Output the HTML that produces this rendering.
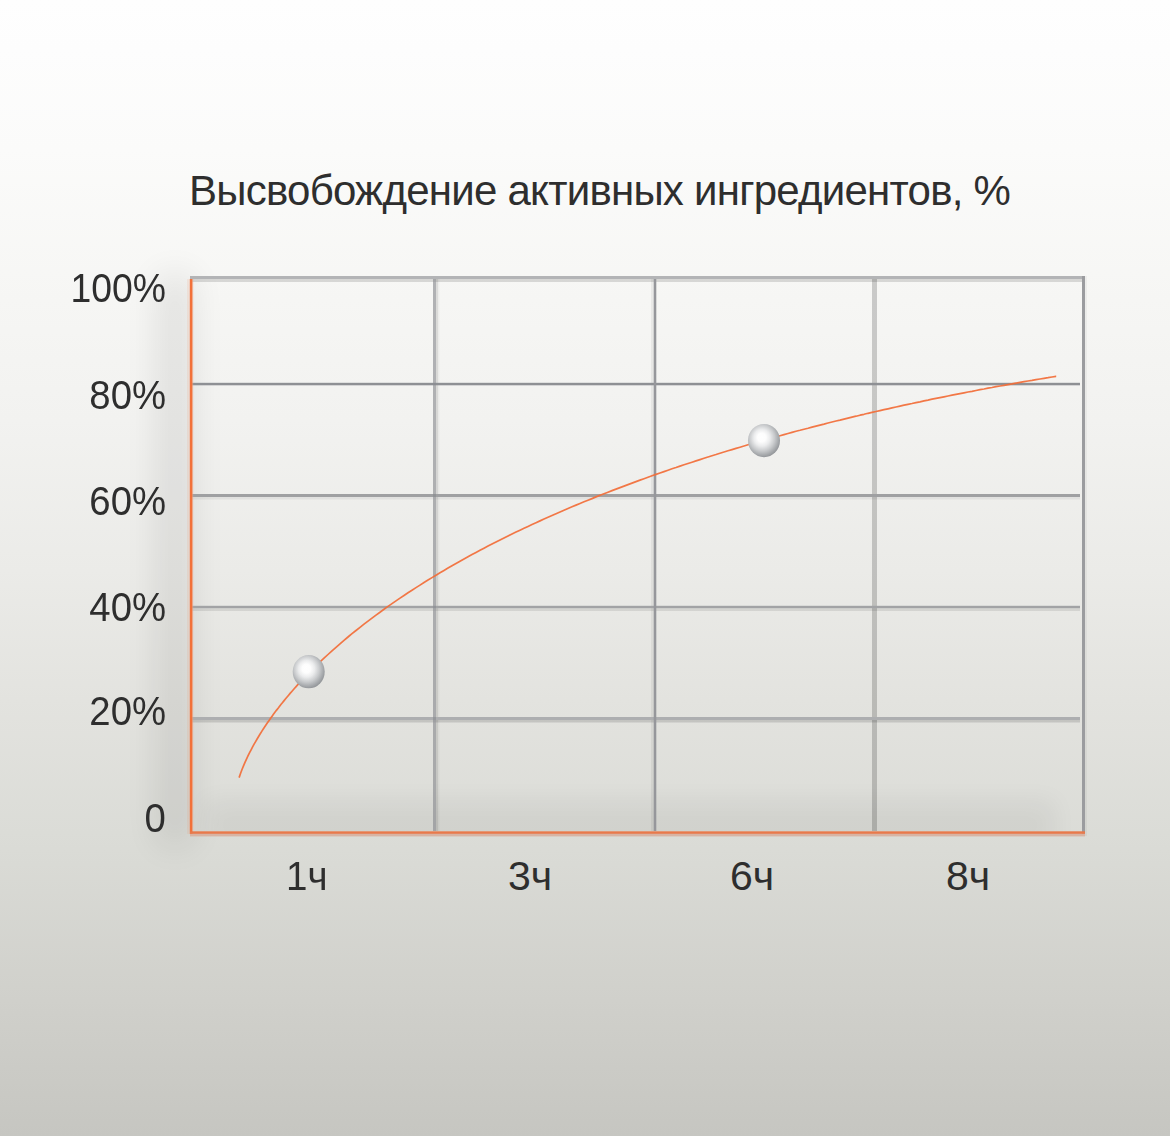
<!DOCTYPE html>
<html><head><meta charset="utf-8">
<style>
html,body{margin:0;padding:0;}
body{width:1170px;height:1136px;overflow:hidden;position:relative;
background:linear-gradient(to bottom,#fefefe 0px,#fdfdfd 50px,#fbfbfa 150px,#f6f6f4 300px,#f2f2f0 420px,#ebebe8 570px,#e3e3df 700px,#dadbd6 850px,#d0d0cb 1000px,#c6c6c1 1136px);
font-family:"Liberation Sans",sans-serif;color:#2e2e2e;}
.t{position:absolute;white-space:nowrap;line-height:1;}
#title{left:189px;top:170px;font-size:42px;letter-spacing:-0.75px;}
.yl{position:absolute;right:1004px;font-size:41px;line-height:1;text-align:right;white-space:nowrap;transform:scaleX(0.935);transform-origin:100% 50%;}
.xl{position:absolute;font-size:41px;line-height:1;white-space:nowrap;}
svg{position:absolute;left:0;top:0;}
</style></head><body>
<svg width="1170" height="1136" viewBox="0 0 1170 1136">
<defs>
<filter id="blur1" x="-100%" y="-20%" width="300%" height="140%"><feGaussianBlur stdDeviation="17"/></filter>
<filter id="blur2" x="-20%" y="-100%" width="140%" height="300%"><feGaussianBlur stdDeviation="12"/></filter>
<clipPath id="inner"><rect x="192" y="282" width="890" height="549"/></clipPath>
<radialGradient id="sph" cx="0.45" cy="0.43" r="0.6" fx="0.42" fy="0.40">
<stop offset="0" stop-color="#ffffff"/>
<stop offset="0.22" stop-color="#fdfdfd"/>
<stop offset="0.42" stop-color="#ebeced"/>
<stop offset="0.65" stop-color="#c9cbcd"/>
<stop offset="0.85" stop-color="#a6a9ac"/>
<stop offset="1" stop-color="#8d9094"/>
</radialGradient>
<filter id="sb" x="-20%" y="-20%" width="140%" height="140%"><feGaussianBlur stdDeviation="0.55"/></filter>
</defs>
<!-- left shadow -->
<rect x="158" y="275" width="34" height="570" fill="#000" opacity="0.085" filter="url(#blur1)"/>
<!-- bottom shade -->
<g clip-path="url(#inner)"><rect x="205" y="800" width="850" height="50" fill="#000" opacity="0.045" filter="url(#blur2)"/></g>
<!-- grid light bands -->
<rect x="190" y="279" width="892" height="3" fill="#000" opacity="0.13"/>
<rect x="192" y="497" width="888" height="2.5" fill="#000" opacity="0.055"/>
<rect x="192" y="608.2" width="888" height="2.8" fill="#000" opacity="0.09"/>
<rect x="192" y="720" width="888" height="2.5" fill="#000" opacity="0.13"/>
<rect x="436" y="279" width="2" height="552" fill="#000" opacity="0.11"/>
<rect x="438" y="279" width="1.5" height="552" fill="#000" opacity="0.035"/>
<rect x="1085" y="276" width="2" height="560" fill="#000" opacity="0.04"/>
<rect x="651" y="279" width="2.7" height="552" fill="#000" opacity="0.05"/>
<!-- grid dark lines -->
<rect x="872" y="279" width="5" height="552" fill="#000" opacity="0.18"/>
<rect x="190" y="276" width="895" height="3" fill="#b3b4b6"/>
<rect x="190" y="382.8" width="890" height="2.5" fill="#8e9094"/>
<rect x="190" y="494" width="890" height="3" fill="#9fa0a2"/>
<rect x="190" y="605.8" width="890" height="2.4" fill="#a2a3a5"/>
<rect x="190" y="717" width="890" height="3" fill="#adaeb0"/>
<rect x="433" y="279" width="3" height="552" fill="#8a8c90" opacity="0.65"/>
<rect x="653.7" y="279" width="2.6" height="552" fill="#96979b"/>
<rect x="1082" y="276" width="3" height="560" fill="#9b9c9f"/>
<!-- axes -->
<rect x="187" y="279" width="2.8" height="555" fill="#f2713a" opacity="0.1"/>
<rect x="189.8" y="279" width="2.7" height="555" fill="#f2713a"/>
<rect x="192.4" y="279" width="0.8" height="552" fill="#eeab8e" opacity="0.6"/>
<rect x="190" y="831.3" width="895" height="2.6" fill="#e8794b"/>
<rect x="190" y="833.9" width="895" height="2.5" fill="#d8b3a3"/>
<path d="M239.1,777.6 L240.6,773.3 L242.1,769.3 L243.6,765.6 L245.1,762.1 L246.6,758.8 L248.1,755.7 L249.6,752.7 L251.1,749.8 L252.6,746.9 L254.1,744.2 L255.6,741.6 L257.1,739.0 L258.6,736.5 L260.1,734.0 L261.6,731.6 L263.1,729.3 L264.6,727.0 L266.1,724.8 L267.6,722.6 L269.1,720.4 L270.6,718.3 L272.1,716.2 L273.6,714.1 L275.1,712.1 L276.6,710.1 L278.1,708.2 L279.6,706.2 L281.1,704.3 L282.6,702.5 L284.1,700.6 L285.6,698.8 L287.1,697.0 L288.6,695.2 L290.1,693.4 L291.6,691.7 L293.1,690.0 L294.6,688.3 L296.1,686.6 L297.6,684.9 L299.1,683.3 L300.0,682.3 L304.0,678.0 L308.0,673.8 L312.0,669.8 L316.0,665.8 L320.0,661.9 L324.0,658.2 L328.0,654.5 L332.0,650.8 L336.0,647.3 L340.0,643.8 L344.0,640.4 L348.0,637.0 L352.0,633.7 L356.0,630.5 L360.0,627.3 L364.0,624.2 L368.0,621.1 L372.0,618.1 L376.0,615.1 L380.0,612.2 L384.0,609.3 L388.0,606.4 L392.0,603.6 L396.0,600.9 L400.0,598.1 L404.0,595.5 L408.0,592.8 L412.0,590.2 L416.0,587.6 L420.0,585.1 L424.0,582.5 L428.0,580.1 L432.0,577.6 L436.0,575.2 L440.0,572.8 L444.0,570.4 L448.0,568.1 L452.0,565.8 L456.0,563.5 L460.0,561.2 L464.0,559.0 L468.0,556.8 L472.0,554.6 L476.0,552.5 L480.0,550.3 L484.0,548.2 L488.0,546.1 L492.0,544.1 L496.0,542.0 L500.0,540.0 L504.0,538.0 L508.0,536.0 L512.0,534.1 L516.0,532.1 L520.0,530.2 L524.0,528.3 L528.0,526.4 L532.0,524.5 L536.0,522.7 L540.0,520.9 L544.0,519.0 L548.0,517.3 L552.0,515.5 L556.0,513.7 L560.0,512.0 L564.0,510.2 L568.0,508.5 L572.0,506.8 L576.0,505.1 L580.0,503.5 L584.0,501.8 L588.0,500.2 L592.0,498.6 L596.0,496.9 L600.0,495.3 L604.0,493.8 L608.0,492.2 L612.0,490.6 L616.0,489.1 L620.0,487.6 L624.0,486.1 L628.0,484.6 L632.0,483.1 L636.0,481.6 L640.0,480.1 L644.0,478.7 L648.0,477.2 L652.0,475.8 L656.0,474.4 L660.0,473.0 L664.0,471.6 L668.0,470.2 L672.0,468.8 L676.0,467.5 L680.0,466.1 L684.0,464.8 L688.0,463.5 L692.0,462.2 L696.0,460.9 L700.0,459.6 L704.0,458.3 L708.0,457.0 L712.0,455.7 L716.0,454.5 L720.0,453.2 L724.0,452.0 L728.0,450.8 L732.0,449.6 L736.0,448.4 L740.0,447.2 L744.0,446.0 L748.0,444.8 L752.0,443.6 L756.0,442.5 L760.0,441.3 L764.0,440.2 L768.0,439.0 L772.0,437.9 L776.0,436.8 L780.0,435.7 L784.0,434.6 L788.0,433.5 L792.0,432.4 L796.0,431.3 L800.0,430.3 L804.0,429.2 L808.0,428.2 L812.0,427.1 L816.0,426.1 L820.0,425.1 L824.0,424.1 L828.0,423.0 L832.0,422.0 L836.0,421.0 L840.0,420.1 L844.0,419.1 L848.0,418.1 L852.0,417.1 L856.0,416.2 L860.0,415.2 L864.0,414.3 L868.0,413.3 L872.0,412.4 L876.0,411.5 L880.0,410.6 L884.0,409.7 L888.0,408.8 L892.0,407.9 L896.0,407.0 L900.0,406.1 L904.0,405.2 L908.0,404.3 L912.0,403.5 L916.0,402.6 L920.0,401.8 L924.0,400.9 L928.0,400.1 L932.0,399.2 L936.0,398.4 L940.0,397.6 L944.0,396.8 L948.0,396.0 L952.0,395.2 L956.0,394.4 L960.0,393.6 L964.0,392.8 L968.0,392.0 L972.0,391.3 L976.0,390.5 L980.0,389.7 L984.0,389.0 L988.0,388.2 L992.0,387.5 L996.0,386.7 L1000.0,386.0 L1004.0,385.3 L1008.0,384.6 L1012.0,383.9 L1016.0,383.1 L1020.0,382.4 L1024.0,381.7 L1028.0,381.0 L1032.0,380.4 L1036.0,379.7 L1040.0,379.0 L1044.0,378.3 L1048.0,377.7 L1052.0,377.0 L1056.0,376.3 L1056.2,376.3" fill="none" stroke="#f26d37" stroke-width="1.7" stroke-opacity="0.92" stroke-linejoin="round" stroke-linecap="butt"/>
<ellipse cx="308.7" cy="671.7" rx="16" ry="16.6" fill="url(#sph)" filter="url(#sb)"/>
<ellipse cx="764" cy="440.6" rx="16" ry="16.6" fill="url(#sph)" filter="url(#sb)"/>
</svg>
<div class="t" id="title">Высвобождение активных ингредиентов, %</div>
<div class="yl" style="top:268px;transform:scaleX(0.91)">100%</div>
<div class="yl" style="top:375px">80%</div>
<div class="yl" style="top:481px">60%</div>
<div class="yl" style="top:587px">40%</div>
<div class="yl" style="top:691px">20%</div>
<div class="yl" style="top:798px">0</div>
<div class="xl" style="left:286px;top:856px;transform:scaleX(0.94);transform-origin:0 50%">1ч</div>
<div class="xl" style="left:508px;top:856px">3ч</div>
<div class="xl" style="left:730px;top:856px">6ч</div>
<div class="xl" style="left:946px;top:856px">8ч</div>
</body></html>
